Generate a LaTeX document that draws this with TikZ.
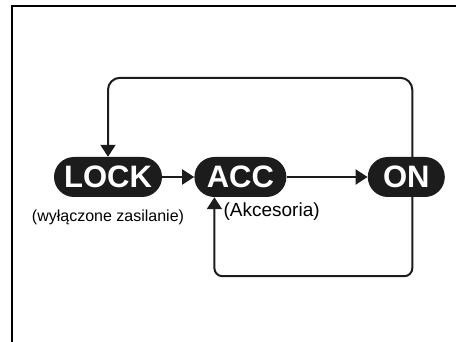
\documentclass[tikz,border=0pt]{standalone}
\usepackage{fontspec}
\setmainfont{Liberation Sans}
\usepackage{tikz}
\usetikzlibrary{positioning,arrows.meta}
\definecolor{keyblack}{RGB}{28,28,28}

\begin{document}
\begin{tikzpicture}[x=1pt, y=-1pt,
    state/.style={rectangle, rounded corners=20pt, fill=keyblack, text=white,
                  minimum height=40pt, inner sep=0pt,
                  font=\fontsize{31}{31}\selectfont\bfseries},
    arrow/.style={draw=keyblack, line width=2pt, rounded corners=12pt,
                  -{Triangle[length=12pt,width=15pt]}},
    note/.style={inner sep=0pt, font=\fontsize{16}{16}\selectfont}]

\clip (0,0) rectangle (456,342);
\draw[line width=2pt] (12,6) rectangle (480,360);

\node[state, minimum width=108pt] (lock) at (108,177) {LOCK};
\node[state, minimum width=92pt, right=32pt of lock] (acc) {ACC};
\node[state, minimum width=77pt, right=81pt of acc] (on) {ON};

\node[note, below=13pt of lock] (lockinfo) {(wyłączone zasilanie)};
\node[note, font=\fontsize{19}{19}\selectfont, below=5pt of acc.south,
      anchor=north west, xshift=-17pt] (accinfo) {(Akcesoria)};

\draw[arrow] (lock) -- (acc);
\draw[arrow] (acc) -- (on);
\draw[arrow] ([xshift=6pt]on.north) -- ++(0,-79) -| (lock.north);
\draw[arrow, rounded corners=8pt] ([xshift=6pt]on.south) -- ++(0,79) -| ([xshift=-26pt]acc.south);

\end{tikzpicture}
\end{document}
